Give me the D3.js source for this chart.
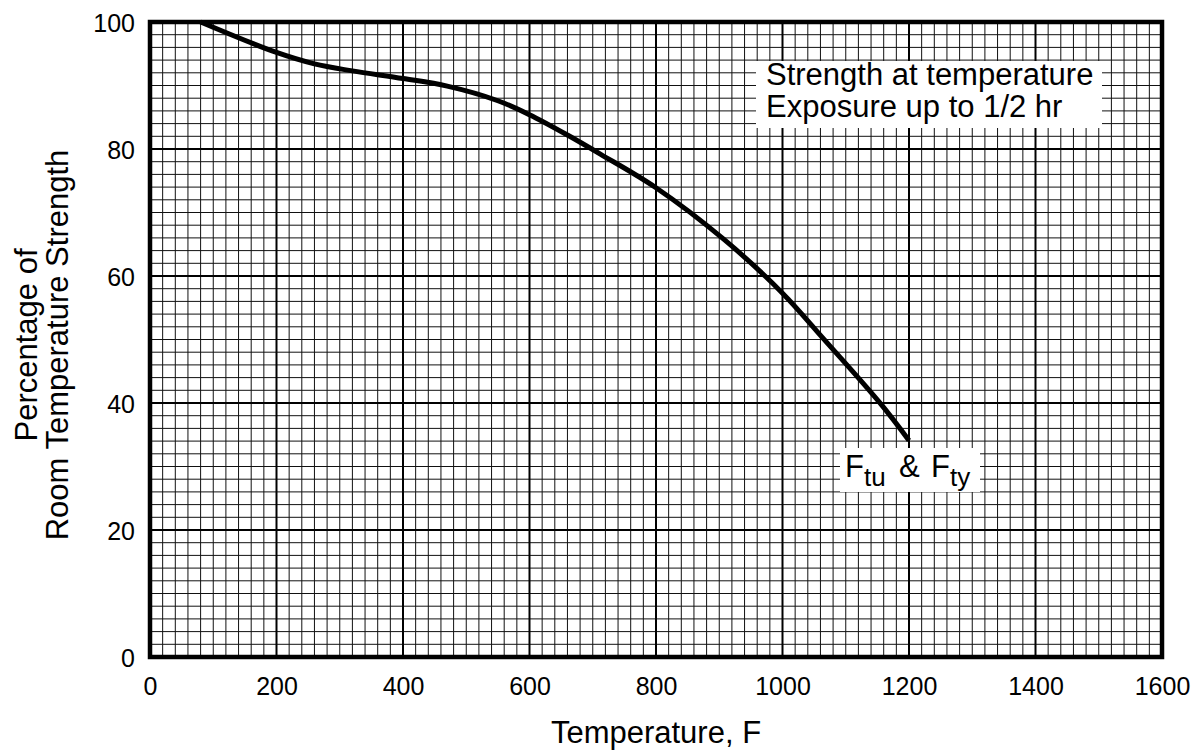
<!DOCTYPE html>
<html>
<head>
<meta charset="utf-8">
<script src="https://cdn.jsdelivr.net/npm/d3@7"></script>
<style>
  html, body { margin: 0; padding: 0; background: #fff; }
  text { font-family: "Liberation Sans", Arial, Helvetica, sans-serif; fill: #000; }
</style>
</head>
<body>
<svg id="chart" width="1199" height="751"></svg>
<script>
// ---- data ----
const temperatureF = [80, 200, 260, 320, 400, 470, 550, 600, 660, 712, 800, 907, 1000, 1065, 1155, 1200];
const strengthPct  = [100, 95.2, 93.4, 92.3, 91.1, 89.9, 87.6, 85.4, 82.2, 79.2, 73.9, 65.8, 57.3, 50.1, 39.9, 34.1];
const xTickValues = [0, 200, 400, 600, 800, 1000, 1200, 1400, 1600];
const yTickValues = [0, 20, 40, 60, 80, 100];
const xTitle = "Temperature, F";
const yTitleLines = ["Percentage of", "Room Temperature Strength"];
const noteLines = ["Strength at temperature", "Exposure up to 1/2 hr"];

// ---- layout ----
const svg = d3.select("#chart");
const x = d3.scaleLinear().domain([0, 1600]).range([150, 1162]);
const y = d3.scaleLinear().domain([0, 100]).range([657, 22]);

// minor grid
const g = svg.append("g");
g.selectAll("line.vminor").data(d3.range(0, 1601, 20)).join("line")
  .attr("x1", d => x(d)).attr("x2", d => x(d))
  .attr("y1", y(0)).attr("y2", y(100))
  .attr("stroke", "#111").attr("stroke-width", 1);
g.selectAll("line.hminor").data(d3.range(0, 101, 2)).join("line")
  .attr("y1", d => y(d)).attr("y2", d => y(d))
  .attr("x1", x(0)).attr("x2", x(1600))
  .attr("stroke", "#111").attr("stroke-width", 1);
// major grid
g.selectAll("line.vmajor").data(xTickValues).join("line")
  .attr("x1", d => x(d)).attr("x2", d => x(d))
  .attr("y1", y(0)).attr("y2", y(100))
  .attr("stroke", "#000").attr("stroke-width", 2);
g.selectAll("line.hmajor").data(yTickValues).join("line")
  .attr("y1", d => y(d)).attr("y2", d => y(d))
  .attr("x1", x(0)).attr("x2", x(1600))
  .attr("stroke", "#000").attr("stroke-width", 2);

// annotation boxes (white backgrounds)
svg.append("rect").attr("x", 756).attr("y", 61).attr("width", 346).attr("height", 67).attr("fill", "#fff");
svg.append("rect").attr("x", 840).attr("y", 448).attr("width", 140).attr("height", 44).attr("fill", "#fff");

// curve
const line = d3.line()
  .x((d, i) => x(temperatureF[i]))
  .y(d => y(d))
  .curve(d3.curveCatmullRom.alpha(0.5));
svg.append("path").datum(strengthPct)
  .attr("d", line)
  .attr("fill", "none").attr("stroke", "#000").attr("stroke-width", 5)
  .attr("stroke-linejoin", "round");

// frame
svg.append("rect")
  .attr("x", x(0)).attr("y", y(100))
  .attr("width", x(1600) - x(0)).attr("height", y(0) - y(100))
  .attr("fill", "none").attr("stroke", "#000").attr("stroke-width", 4.5);

// axes (labels only)
const xAxis = d3.axisBottom(x).tickValues(xTickValues).tickSize(0).tickPadding(0).tickFormat(d3.format("d"));
const yAxis = d3.axisLeft(y).tickValues(yTickValues).tickSize(0).tickPadding(0).tickFormat(d3.format("d"));
const xa = svg.append("g").attr("transform", `translate(0,${y(0)})`).call(xAxis);
xa.select(".domain").remove();
xa.selectAll("text").attr("dy", null).attr("y", 38).style("font-size", "25px")
  .style("font-family", "'Liberation Sans', Arial, sans-serif").attr("fill", "#000");
const ya = svg.append("g").attr("transform", `translate(135,0)`).call(yAxis);
ya.select(".domain").remove();
ya.selectAll("text").attr("dy", null).attr("x", 0).attr("y", 9).style("font-size", "25px")
  .style("font-family", "'Liberation Sans', Arial, sans-serif").attr("fill", "#000");

// titles
svg.append("text").attr("x", 656).attr("y", 743).attr("text-anchor", "middle")
  .style("font-size", "31px").text(xTitle);
svg.append("g").attr("transform", "translate(0,345) rotate(-90)")
  .selectAll("text").data(yTitleLines).join("text")
  .attr("x", 0).attr("y", (d, i) => 37 + i * 31)
  .attr("text-anchor", "middle").style("font-size", "31px").text(d => d);

// notes
svg.append("g").selectAll("text").data(noteLines).join("text")
  .attr("x", 766).attr("y", (d, i) => 85 + i * 32)
  .style("font-size", "31px").text(d => d);

const lbl = svg.append("text").attr("y", 477).style("font-size", "31px");
lbl.append("tspan").attr("x", 845).attr("y", 477).text("F");
lbl.append("tspan").attr("x", 864).attr("y", 486).style("font-size", "26px").text("tu");
lbl.append("tspan").attr("x", 899).attr("y", 477).text("&");
lbl.append("tspan").attr("x", 931).attr("y", 477).text("F");
lbl.append("tspan").attr("x", 950).attr("y", 486).style("font-size", "26px").text("ty");
</script>
</body>
</html>
